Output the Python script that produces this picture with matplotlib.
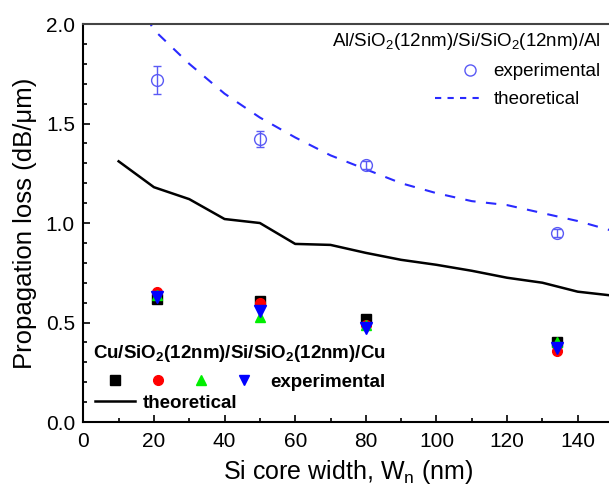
#Propagation loss vs Si core width
import numpy as np
import matplotlib
matplotlib.use('Agg')
import matplotlib.pyplot as plt
from matplotlib.lines import Line2D
from matplotlib.legend_handler import HandlerTuple, HandlerLine2DCompound
from matplotlib.ticker import MultipleLocator

plt.rcParams['font.family'] = ['Liberation Sans', 'DejaVu Sans']
plt.rcParams['mathtext.default'] = 'regular'

#Theoretical curves
w_theory = [10, 20, 30, 40, 50, 60, 70, 80, 90, 100, 110, 120, 130, 140, 150]
al_theory = [2.28, 1.97, 1.80, 1.65, 1.53, 1.43, 1.34, 1.27, 1.20, 1.15, 1.11, 1.09, 1.05, 1.01, 0.96]
cu_theory = [1.31, 1.18, 1.12, 1.02, 1.00, 0.895, 0.89, 0.85, 0.815, 0.79, 0.76, 0.725, 0.70, 0.655, 0.635]

#Experimental points
w_exp = [21, 50, 80, 134]
al_exp = [1.72, 1.42, 1.29, 0.95]
al_err = [0.07, 0.04, 0.02, 0.02]
cu_sq = [0.62, 0.61, 0.52, 0.40]
cu_circ = [0.655, 0.60, 0.49, 0.355]
cu_up = [0.64, 0.53, 0.49, 0.40]
cu_down = [0.63, 0.56, 0.47, 0.37]


#legend marker drawn toward the right end of the handle (Origin style)
class RightMarker(HandlerLine2DCompound):
    def get_xdata(self, legend, xdescent, ydescent, width, height, fontsize):
        xdata = np.array([-xdescent, -xdescent + width])
        return xdata, np.array([-xdescent + 0.75 * width])


fig = plt.figure(figsize=(6.09, 4.88), dpi=100)
ax = fig.add_axes([0.1368, 0.1352, 0.8698, 0.8156])

ax.plot(w_theory, al_theory, color='#2a2aff', lw=1.5, dashes=(5, 5))
ax.errorbar(w_exp, al_exp, yerr=al_err, fmt='o', mfc='none', mec='#5a5af5',
            ecolor='#5a5af5', ms=8.5, mew=1.0, capsize=3, elinewidth=1.0)
ax.plot(w_theory, cu_theory, color='black', lw=1.8)

ms = 7
ax.plot(w_exp, cu_sq, 's', color='black', ms=ms)
ax.plot(w_exp, cu_circ, 'o', color='red', ms=ms)
ax.plot(w_exp, cu_up, '^', color='#00ee00', ms=ms)
ax.plot(w_exp, cu_down, 'v', color='blue', ms=ms + 1)

ax.set_xlim(0, 150)
ax.set_ylim(0, 2.0)
ax.xaxis.set_major_locator(MultipleLocator(20))
ax.xaxis.set_minor_locator(MultipleLocator(10))
ax.yaxis.set_major_locator(MultipleLocator(0.5))
ax.yaxis.set_minor_locator(MultipleLocator(0.1))
ax.tick_params(which='both', direction='in', top=False, right=False, labelsize=15, width=1.2)
ax.tick_params(which='major', length=5)
ax.tick_params(axis='x', which='major', pad=7)
ax.tick_params(axis='y', which='major', pad=6)
ax.tick_params(which='minor', length=3)
for s in ['left', 'bottom']:
    ax.spines[s].set_linewidth(1.5)
ax.spines['top'].set_linewidth(1.5)
ax.spines['top'].set_color('#444444')
ax.spines['right'].set_visible(False)

ax.set_xlabel('Si core width, W$_n$ (nm)', fontsize=18, labelpad=5)
ax.set_ylabel('Propagation loss (dB/\u03bcm)', fontsize=18.5, labelpad=6)

#Al legend
h_al = [Line2D([], [], ls='none', marker='o', mfc='none', mec='#5a5af5', ms=8),
        Line2D([], [], color='#2a2aff', lw=1.5, dashes=(3, 3))]
leg1 = fig.legend(h_al, ['experimental', 'theoretical'], loc='upper right',
                  bbox_to_anchor=(0.986, 0.937), frameon=False, fontsize=13.5,
                  title='Al/SiO$_2$(12nm)/Si/SiO$_2$(12nm)/Al', title_fontsize=13.5,
                  alignment='right', borderpad=0, borderaxespad=0, handlelength=2.5,
                  labelspacing=0.6, handletextpad=0.6,
                  handler_map={h_al[0]: RightMarker()})

#Cu legend
h_cu = [(Line2D([], [], ls='none', marker='s', color='black', ms=7),
         Line2D([], [], ls='none', marker='o', color='red', ms=7),
         Line2D([], [], ls='none', marker='^', color='#00ee00', ms=7),
         Line2D([], [], ls='none', marker='v', color='blue', ms=7))]
leg2 = fig.legend(h_cu, ['experimental'], loc='upper left',
                  bbox_to_anchor=(0.1535, 0.297), frameon=False,
                  prop={'size': 13.5, 'weight': 'bold'},
                  title='Cu/SiO$_2$(12nm)/Si/SiO$_2$(12nm)/Cu',
                  title_fontproperties={'size': 13.5, 'weight': 'bold'},
                  alignment='left', borderpad=0, borderaxespad=0, handlelength=9.17,
                  handletextpad=0.25,
                  handler_map={tuple: HandlerTuple(ndivide=None, pad=0)})
leg3 = fig.legend([Line2D([], [], color='black', lw=1.8)], ['theoretical'], loc='upper left',
                  bbox_to_anchor=(0.156, 0.191), frameon=False,
                  prop={'size': 13.5, 'weight': 'bold'}, borderpad=0, borderaxespad=0,
                  handlelength=2.13, handletextpad=0.43)

plt.savefig('out.png', dpi=100)
